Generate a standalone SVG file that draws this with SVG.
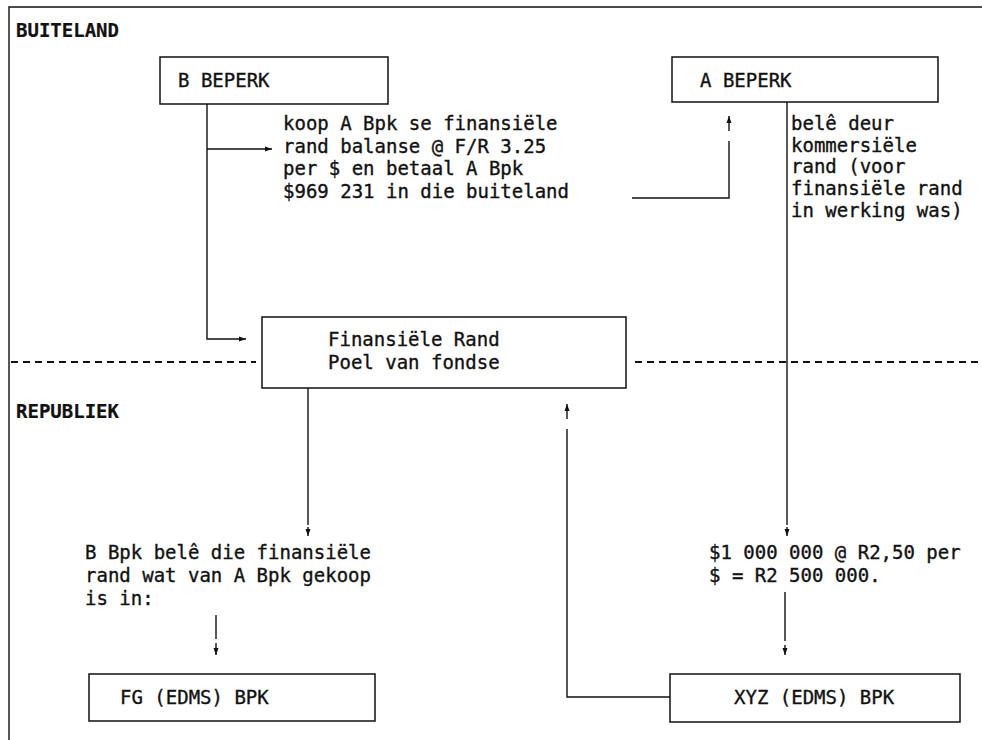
<svg xmlns="http://www.w3.org/2000/svg" width="982" height="740" viewBox="0 0 982 740">
  <style>
    text { font-family: "DejaVu Sans Mono", "Liberation Mono", monospace; font-size: 19px; fill: #111; stroke: #111; stroke-width: 0.35; }
    .hd { font-weight: bold; stroke-width: 0.2; }
    .box { fill: #fff; stroke: #111; stroke-width: 1.5; }
    .ln { fill: none; stroke: #111; stroke-width: 1.4; }
    .dash { fill: none; stroke: #111; stroke-width: 2; stroke-dasharray: 7 5; }
  </style>
  <defs>
    <marker id="head" markerUnits="userSpaceOnUse" markerWidth="8" markerHeight="6" refX="7" refY="3" orient="auto">
      <path d="M0,0.5 L7,3 L0,5.5 Z" fill="#111"/>
    </marker>
  </defs>

  <rect width="982" height="740" fill="#fff"/>

  <!-- outer frame (top and left edges) -->
  <path class="ln" d="M9,740 V7 H982" stroke-width="1.6"/>

  <!-- border between the two regions -->
  <path class="dash" d="M11,362 H256"/>
  <path class="dash" d="M635,362 H982"/>

  <text class="hd" x="16" y="37">BUITELAND</text>
  <text class="hd" x="16" y="418">REPUBLIEK</text>

  <g id="connectors">
    <!-- B Beperk down to the pool, with a branch to the purchase note -->
    <path class="ln" d="M207,104 V339 H246" marker-end="url(#head)"/>
    <path class="ln" d="M207,149 H272" marker-end="url(#head)"/>
    <!-- payment back to A Beperk -->
    <path class="ln" d="M632,198 H729 V141"/>
    <path class="ln" d="M729,131 V116" marker-end="url(#head)"/>
    <!-- A Beperk invests via commercial rand -->
    <path class="ln" d="M787,102 V525"/>
    <path class="ln" d="M787,527 V536" marker-end="url(#head)"/>
    <!-- pool down to B Bpk investment note -->
    <path class="ln" d="M308,388 V525"/>
    <path class="ln" d="M308,527 V536" marker-end="url(#head)"/>
    <!-- note to FG -->
    <path class="ln" d="M216,615 V639"/>
    <path class="ln" d="M216,643 V655" marker-end="url(#head)"/>
    <!-- rand amount to XYZ -->
    <path class="ln" d="M785,592 V641"/>
    <path class="ln" d="M785,645 V655" marker-end="url(#head)"/>
    <!-- XYZ back up to the pool -->
    <path class="ln" d="M670,697 H567 V429"/>
    <path class="ln" d="M567,419 V404" marker-end="url(#head)"/>
  </g>

  <g id="b-beperk">
    <rect class="box" x="160" y="57" width="228" height="47"/>
    <text x="178" y="87">B BEPERK</text>
  </g>

  <g id="a-beperk">
    <rect class="box" x="672" y="57" width="266" height="45"/>
    <text x="700" y="87">A BEPERK</text>
  </g>

  <g id="koop-note">
    <text x="283" y="130">koop A Bpk se finansiële</text>
    <text x="283" y="152.5">rand balanse @ F/R 3.25</text>
    <text x="283" y="175">per $ en betaal A Bpk</text>
    <text x="283" y="197.5">$969 231 in die buiteland</text>
  </g>

  <g id="bele-note">
    <text x="791" y="130">belê deur</text>
    <text x="791" y="151.7">kommersiële</text>
    <text x="791" y="173.4">rand (voor</text>
    <text x="791" y="195.1">finansiële rand</text>
    <text x="791" y="216.8">in werking was)</text>
  </g>

  <g id="finansiele-rand-poel">
    <rect class="box" x="262" y="317" width="364" height="71"/>
    <text x="328" y="346">Finansiële Rand</text>
    <text x="328" y="369">Poel van fondse</text>
  </g>

  <g id="b-bpk-note">
    <text x="85" y="559">B Bpk belê die finansiële</text>
    <text x="85" y="582">rand wat van A Bpk gekoop</text>
    <text x="85" y="605">is in:</text>
  </g>

  <g id="rand-bedrag">
    <text x="709" y="559">$1 000 000 @ R2,50 per</text>
    <text x="709" y="582">$ = R2 500 000.</text>
  </g>

  <g id="fg-edms-bpk">
    <rect class="box" x="89" y="674" width="286" height="47"/>
    <text x="120" y="704">FG (EDMS) BPK</text>
  </g>

  <g id="xyz-edms-bpk">
    <rect class="box" x="670" y="674" width="290" height="48"/>
    <text x="734" y="704">XYZ (EDMS) BPK</text>
  </g>
</svg>
